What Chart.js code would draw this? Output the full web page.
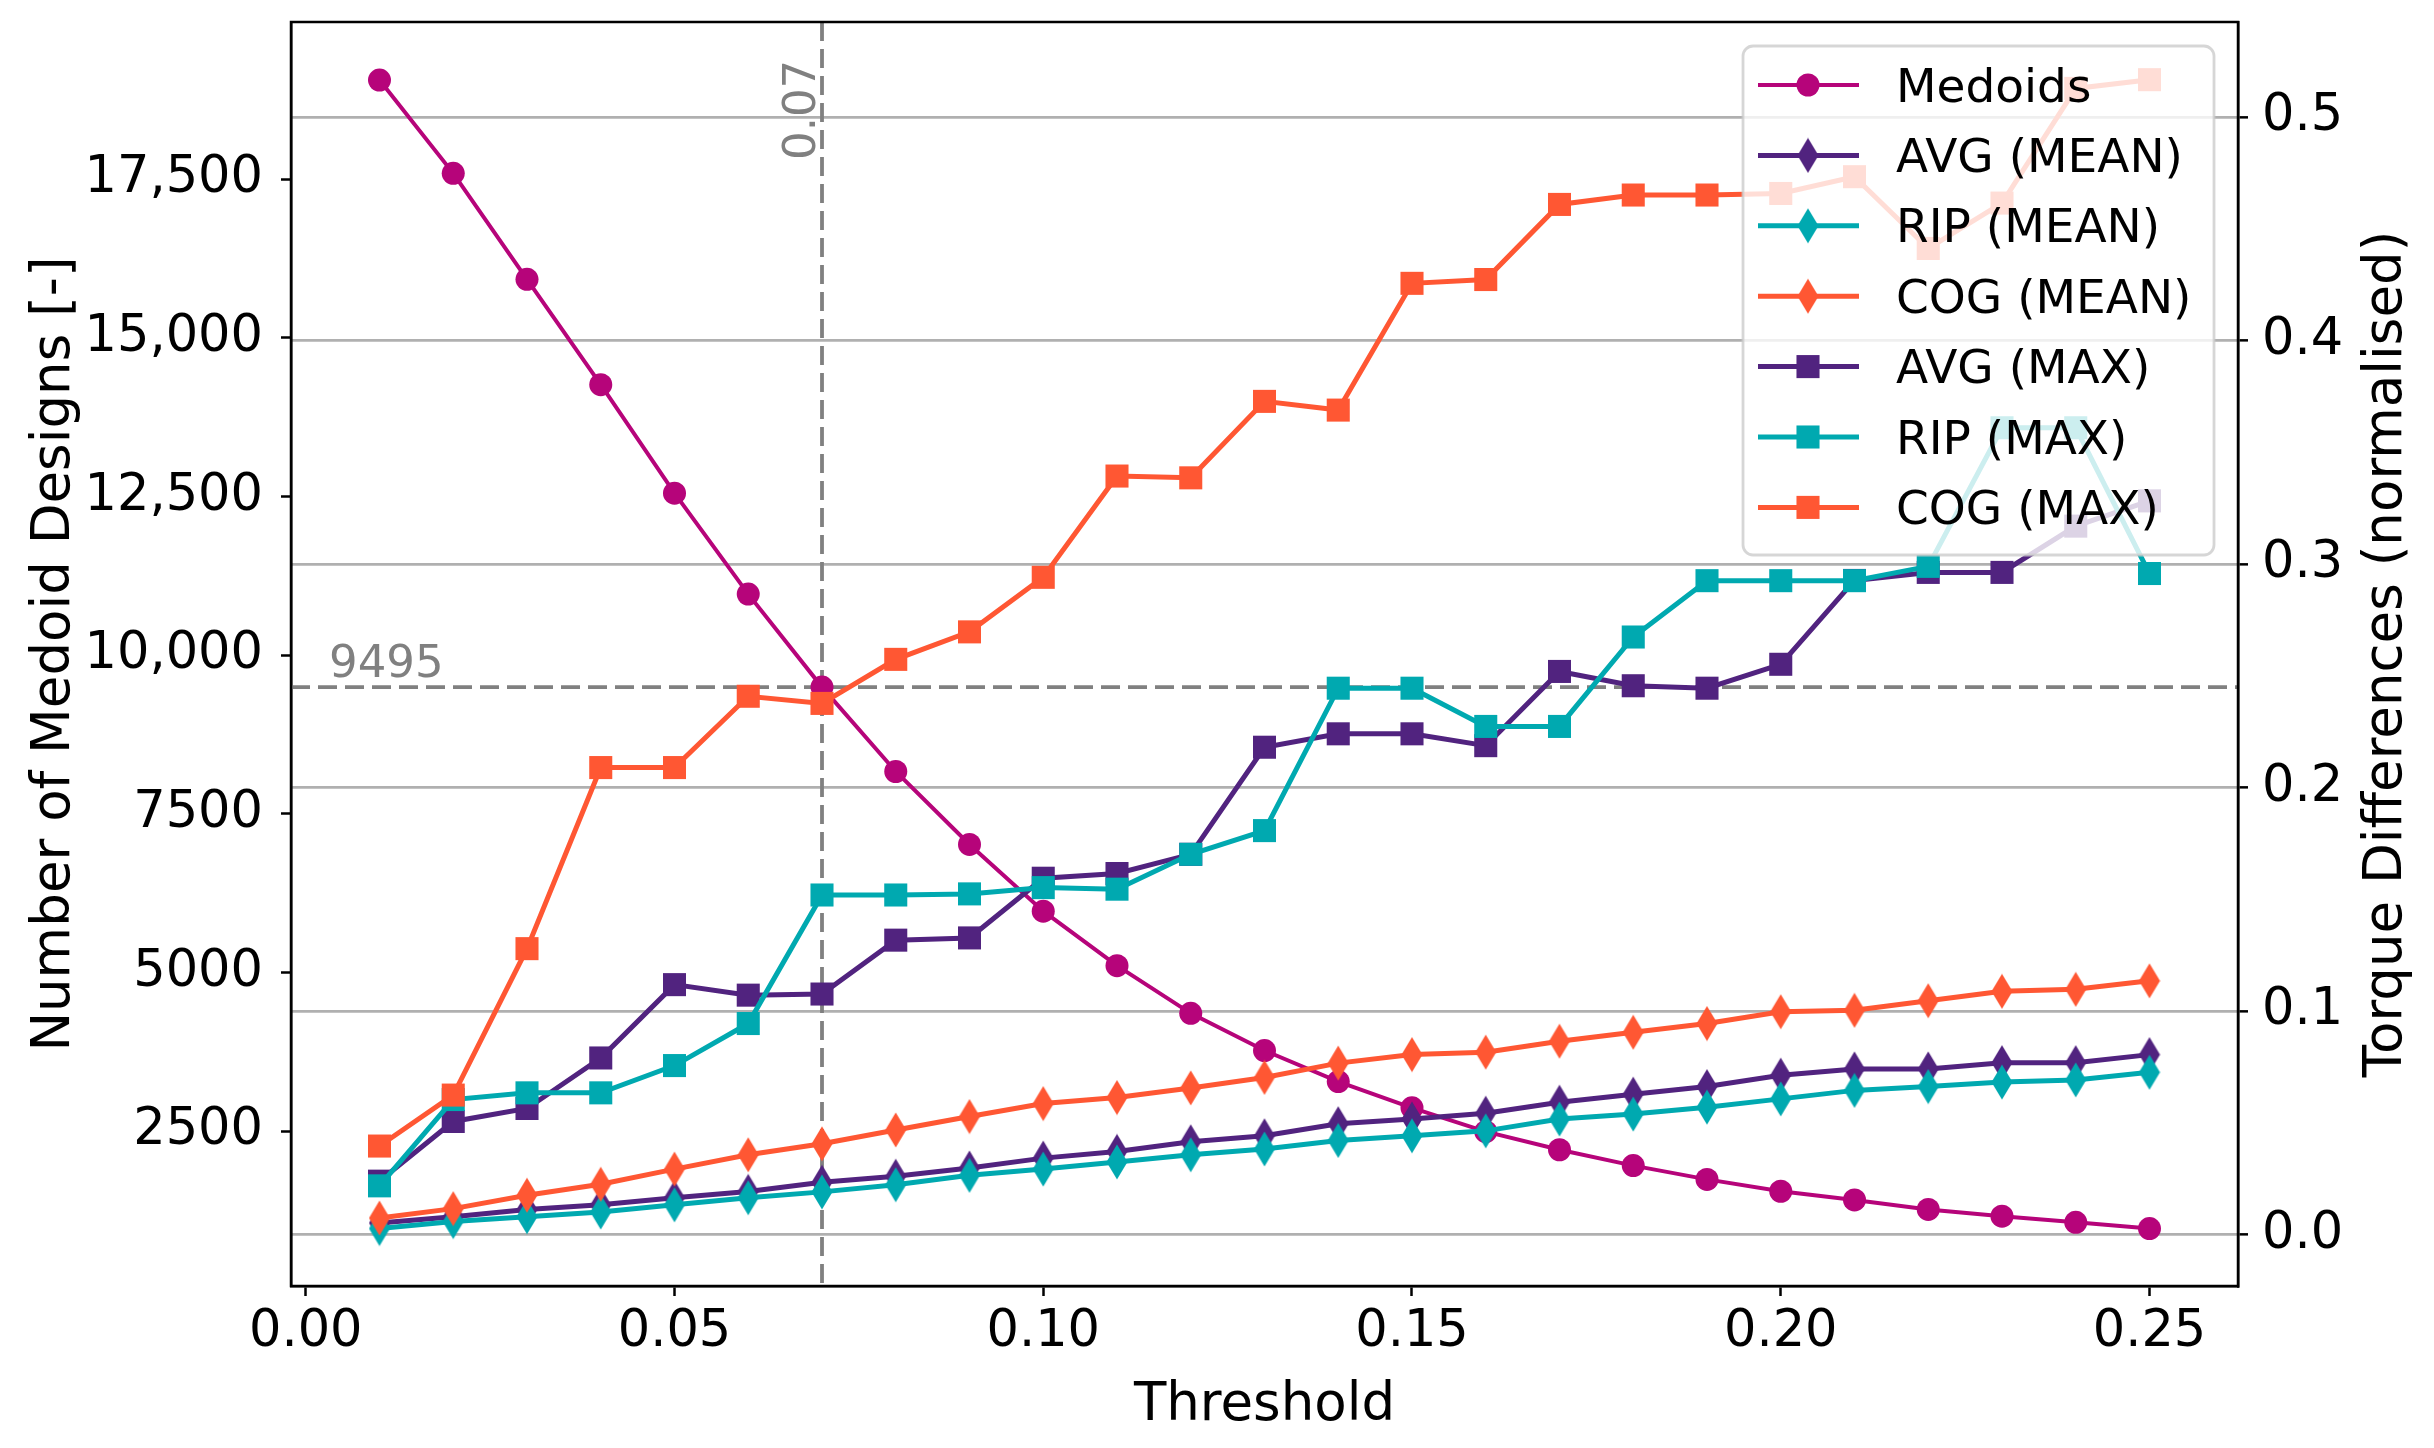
<!DOCTYPE html>
<html>
<head>
<meta charset="utf-8">
<script src="https://cdn.jsdelivr.net/npm/chart.js@4.4.1/dist/chart.umd.min.js"></script>
<style>
	html, body { margin: 0; padding: 0; background: #fff; }
	canvas { display: block; }
</style>
</head>
<body>
<canvas id="chart" width="2434" height="1448"></canvas>
<script>
const thresholds = [0.01, 0.02, 0.03, 0.04, 0.05, 0.06, 0.07, 0.08, 0.09, 0.10, 0.11, 0.12, 0.13,
	0.14, 0.15, 0.16, 0.17, 0.18, 0.19, 0.20, 0.21, 0.22, 0.23, 0.24, 0.25];

const medoids = [19060, 17590, 15920, 14260, 12550, 10960, 9495, 8165, 7016, 5964, 5106, 4354, 3768,
	3280, 2865, 2490, 2205, 1955, 1738, 1551, 1414, 1264, 1158, 1061, 963];

const avgMean = [0.0053, 0.0081, 0.0113, 0.0134, 0.0166, 0.0194, 0.0235, 0.0262, 0.0299, 0.0343, 0.0373, 0.0416, 0.0443,
	0.0497, 0.0518, 0.0544, 0.0593, 0.0629, 0.0663, 0.0714, 0.0742, 0.0742, 0.0770, 0.0770, 0.0806];
const ripMean = [0.0028, 0.0059, 0.0081, 0.0102, 0.0134, 0.0166, 0.0192, 0.0224, 0.0266, 0.0294, 0.0326, 0.0358, 0.0384,
	0.0422, 0.0443, 0.0465, 0.0518, 0.0540, 0.0571, 0.0608, 0.0646, 0.0663, 0.0683, 0.0693, 0.0727];
const cogMean = [0.0075, 0.0117, 0.0177, 0.0226, 0.0294, 0.0358, 0.0407, 0.0469, 0.0529, 0.0587, 0.0614, 0.0657, 0.0704,
	0.0768, 0.0806, 0.0817, 0.0866, 0.0906, 0.0945, 0.0998, 0.1004, 0.1047, 0.1089, 0.1098, 0.1136];

const avgMax = [0.0240, 0.0507, 0.0565, 0.0791, 0.1119, 0.1072, 0.1077, 0.1318, 0.1328, 0.1595, 0.1616, 0.1702, 0.2181,
	0.2241, 0.2241, 0.2188, 0.2520, 0.2456, 0.2445, 0.2552, 0.2927, 0.2963, 0.2963, 0.3170, 0.3283];
const ripMax = [0.0219, 0.0605, 0.0635, 0.0635, 0.0757, 0.0945, 0.1520, 0.1520, 0.1525, 0.1553, 0.1546, 0.1702, 0.1808,
	0.2445, 0.2445, 0.2274, 0.2274, 0.2674, 0.2926, 0.2926, 0.2926, 0.2990, 0.3610, 0.3610, 0.2958];
const cogMax = [0.0397, 0.0625, 0.1280, 0.2090, 0.2090, 0.2409, 0.2377, 0.2574, 0.2697, 0.2941, 0.3394, 0.3386, 0.3728,
	0.3689, 0.4256, 0.4273, 0.4609, 0.4651, 0.4651, 0.4658, 0.4733, 0.4412, 0.4615, 0.5128, 0.5167];

const xTicks = [0.00, 0.05, 0.10, 0.15, 0.20, 0.25];
const leftTicks = [2500, 5000, 7500, 10000, 12500, 15000, 17500];
const rightTicks = [0.0, 0.1, 0.2, 0.3, 0.4, 0.5];

const chosenThreshold = 0.07;
const chosenMedoids = 9495;

const xTitle = "Threshold";
const leftTitle = "Number of Medoid Designs [-]";
const rightTitle = "Torque Differences (normalised)";

const FONT = "'DejaVu Sans', sans-serif";
const C_MED = "#b6047a";
const C_AVG = "#51237f";
const C_RIP = "#00a9b0";
const C_COG = "#ff5733";

function thinDiamond(color) {
	const c = document.createElement("canvas");
	c.width = 22;
	c.height = 36;
	const g = c.getContext("2d");
	g.fillStyle = color;
	g.beginPath();
	g.moveTo(11, 0.5);
	g.lineTo(21.5, 18);
	g.lineTo(11, 35.5);
	g.lineTo(0.5, 18);
	g.closePath();
	g.fill();
	return c;
}

function series(label, values, color, style, axis, width, order) {
	const r = style === "circle" ? 11.5 : (style === "rect" ? 16.3 : 12);
	return {
		label: label,
		data: thresholds.map((t, i) => ({ x: t, y: values[i] })),
		yAxisID: axis,
		borderColor: color,
		backgroundColor: color,
		pointBackgroundColor: color,
		pointBorderWidth: 0,
		borderWidth: width,
		pointStyle: style,
		pointRadius: r,
		pointHoverRadius: r,
		tension: 0,
		fill: false,
		order: order
	};
}

function drawMarker(ctx, ds, x, y) {
	const st = ds.pointStyle;
	ctx.fillStyle = ds.pointBackgroundColor;
	if (st === "circle") {
		ctx.beginPath();
		ctx.arc(x, y, ds.pointRadius, 0, Math.PI * 2);
		ctx.fill();
	} else if (st === "rect") {
		const h = ds.pointRadius * Math.SQRT1_2;
		ctx.fillRect(x - h, y - h, 2 * h, 2 * h);
	} else {
		ctx.drawImage(st, x - st.width / 2, y - st.height / 2);
	}
}

// keep the plot box where the figure has it: no extra room for edge labels
function fixWidth(w) {
	return function (s) {
		s.width = w;
		s.paddingTop = 0;
		s.paddingBottom = 0;
	};
}

// dashed reference lines + their labels, under the data
const refLines = {
	id: "refLines",
	beforeDatasetsDraw(chart) {
		const { ctx, chartArea: a, scales } = chart;
		const x = scales.x.getPixelForValue(chosenThreshold);
		const y = scales.y.getPixelForValue(chosenMedoids);
		ctx.save();
		ctx.strokeStyle = "#808080";
		ctx.lineWidth = 3.8;
		ctx.setLineDash([19, 8]);
		ctx.beginPath();
		ctx.moveTo(x, a.top);
		ctx.lineTo(x, a.bottom);
		ctx.moveTo(a.left, y);
		ctx.lineTo(a.right, y);
		ctx.stroke();
		ctx.setLineDash([]);

		ctx.fillStyle = "#808080";
		ctx.font = "45px " + FONT;
		ctx.textAlign = "left";
		ctx.textBaseline = "alphabetic";
		ctx.fillText(String(chosenMedoids), a.left + 38, y - 10);
		ctx.translate(x - 7, a.top + 138);
		ctx.rotate(-Math.PI / 2);
		ctx.fillText(chosenThreshold.toFixed(2), 0, 0);
		ctx.restore();
	}
};

// frame, axis titles and legend on top
const overlay = {
	id: "overlay",
	afterDraw(chart) {
		const { ctx, chartArea: a } = chart;
		ctx.save();
		ctx.strokeStyle = "#000";
		ctx.lineWidth = 2.5;
		ctx.strokeRect(a.left, a.top, a.right - a.left, a.bottom - a.top);

		ctx.fillStyle = "#000";
		ctx.font = "53px " + FONT;
		ctx.textBaseline = "alphabetic";
		ctx.textAlign = "center";
		const cy = (a.top + a.bottom) / 2;
		ctx.fillText(xTitle, (a.left + a.right) / 2, 1420);
		ctx.save();
		ctx.translate(69, cy);
		ctx.rotate(-Math.PI / 2);
		ctx.fillText(leftTitle, 0, 0);
		ctx.restore();
		ctx.save();
		ctx.translate(2401, cy);
		ctx.rotate(-Math.PI / 2);
		ctx.fillText(rightTitle, 0, 0);
		ctx.restore();

		// legend box
		const bx = a.right - 495, by = a.top + 24, bw = 471, bh = 509;
		ctx.beginPath();
		ctx.roundRect(bx, by, bw, bh, 10);
		ctx.fillStyle = "rgba(255,255,255,0.8)";
		ctx.fill();
		ctx.strokeStyle = "rgba(204,204,204,0.8)";
		ctx.lineWidth = 2.8;
		ctx.stroke();

		ctx.font = "47px " + FONT;
		ctx.textAlign = "left";
		chart.data.datasets.forEach(function (ds, i) {
			const ry = by + 39 + i * 70.4;
			ctx.strokeStyle = ds.borderColor;
			ctx.lineWidth = ds.borderWidth;
			ctx.beginPath();
			ctx.moveTo(bx + 15, ry);
			ctx.lineTo(bx + 116, ry);
			ctx.stroke();
			drawMarker(ctx, ds, bx + 65, ry);
			ctx.fillStyle = "#000";
			ctx.fillText(ds.label, bx + 153, ry + 16.5);
		});
		ctx.restore();
	}
};

const tickFont = { family: FONT, size: 51 };

new Chart(document.getElementById("chart"), {
	type: "line",
	data: {
		datasets: [
			series("Medoids", medoids, C_MED, "circle", "y", 4, 7),
			series("AVG (MEAN)", avgMean, C_AVG, thinDiamond(C_AVG), "y1", 5, 6),
			series("RIP (MEAN)", ripMean, C_RIP, thinDiamond(C_RIP), "y1", 5, 5),
			series("COG (MEAN)", cogMean, C_COG, thinDiamond(C_COG), "y1", 5, 4),
			series("AVG (MAX)", avgMax, C_AVG, "rect", "y1", 5, 3),
			series("RIP (MAX)", ripMax, C_RIP, "rect", "y1", 5, 2),
			series("COG (MAX)", cogMax, C_COG, "rect", "y1", 5, 1)
		]
	},
	options: {
		responsive: false,
		devicePixelRatio: 1,
		animation: false,
		events: [],
		layout: { padding: { top: 22, left: 0, right: 0, bottom: 0 } },
		plugins: {
			legend: { display: false },
			tooltip: { enabled: false }
		},
		scales: {
			x: {
				type: "linear",
				min: -0.002,
				max: 0.262,
				afterBuildTicks: function (s) { s.ticks = xTicks.map(v => ({ value: v })); },
				afterFit: function (s) {
					s.height = 162;
					s.paddingLeft = 0;
					s.paddingRight = 0;
				},
				ticks: {
					font: tickFont,
					color: "#000",
					padding: 6,
					maxRotation: 0,
					callback: v => Number(v).toFixed(2)
				},
				grid: { drawOnChartArea: false, drawTicks: true, tickLength: 10, tickColor: "#000", tickWidth: 2.5 },
				border: { display: true, color: "#000", width: 2.5 }
			},
			y: {
				type: "linear",
				position: "left",
				min: 58,
				max: 19975,
				afterBuildTicks: function (s) { s.ticks = leftTicks.map(v => ({ value: v })); },
				afterFit: fixWidth(291),
				ticks: {
					font: tickFont,
					color: "#000",
					padding: 18,
					callback: v => v >= 10000 ? Number(v).toLocaleString("en-US") : String(v)
				},
				grid: { drawOnChartArea: false, drawTicks: true, tickLength: 10, tickColor: "#000", tickWidth: 2.5 },
				border: { display: true, color: "#000", width: 2.5 }
			},
			y1: {
				type: "linear",
				position: "right",
				min: -0.0229,
				max: 0.5425,
				afterBuildTicks: function (s) { s.ticks = rightTicks.map(v => ({ value: v })); },
				afterFit: fixWidth(196),
				ticks: {
					font: tickFont,
					color: "#000",
					padding: 14,
					callback: v => Number(v).toFixed(1)
				},
				grid: { drawOnChartArea: true, color: "#b0b0b0", lineWidth: 2.7, drawTicks: true, tickLength: 10, tickColor: "#000", tickWidth: 2.5 },
				border: { display: true, color: "#000", width: 2.5 }
			}
		}
	},
	plugins: [refLines, overlay]
});
</script>
</body>
</html>
